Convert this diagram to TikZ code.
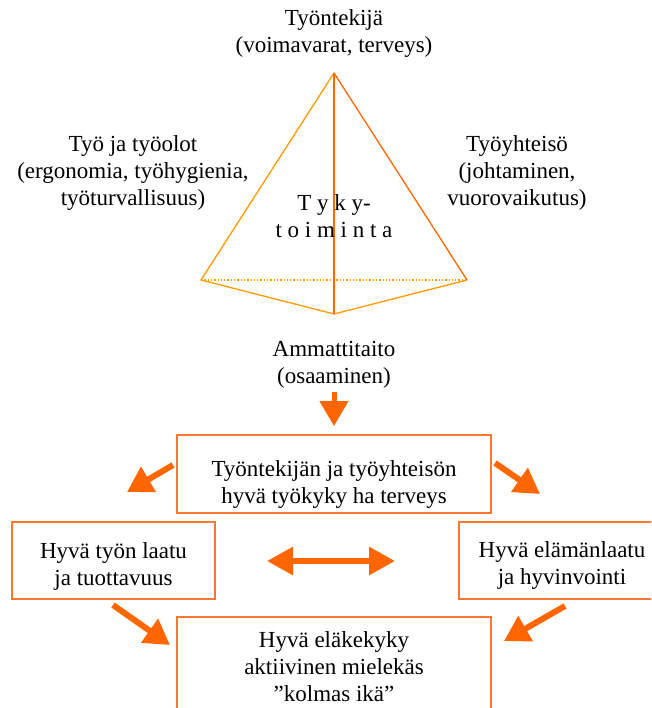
\documentclass[tikz,border=0pt]{standalone}
\usepackage{fontspec}
\setmainfont{Liberation Serif}
\usetikzlibrary{arrows.meta}
\definecolor{amber}{RGB}{255,153,0}
\definecolor{deeporange}{RGB}{255,102,0}
\definecolor{boxorange}{RGB}{250,120,50}
\tikzset{
  txt/.style={align=center, inner sep=0pt, font=\fontsize{23}{27}\selectfont, text=black},
  boxnode/.style={draw=boxorange, line width=1.5pt, inner sep=0pt},
  blockarrow/.style={draw=deeporange, line width=6pt,
     -{Triangle[length=25pt,width=28pt]}, shorten >=0pt},
  dblarrow/.style={draw=deeporange, line width=6pt,
     {Triangle[length=26pt,width=27pt]}-{Triangle[length=26pt,width=27pt]}},
  edgeA/.style={draw=amber, line width=1.3pt, line join=round},
  edgeB/.style={draw=deeporange, line width=1.3pt, line join=round}
}
\begin{document}
\begin{tikzpicture}[x=1pt,y=-1pt]
\useasboundingbox (0,0) rectangle (651,708);
\clip (0,0) rectangle (651,708);
% tetrahedron
\coordinate (A) at (334,73);
\coordinate (L) at (201,280);
\coordinate (R) at (467,280);
\coordinate (B) at (334,314);
\draw[edgeA, dotted] (L) -- (R);
\draw[edgeA] (A) -- (L) -- (B) -- (R);
\draw[edgeB] (A) -- (R);
\draw[edgeB] (A) -- (B);
% labels around tetrahedron
\node[txt] (top) at (334,34) {Työntekijä\\(voimavarat, terveys)};
\node[txt] (left) at (133,173) {Työ ja työolot\\(ergonomia, työhygienia,\\työturvallisuus)};
\node[txt] (right) at (517,173) {Työyhteisö\\(johtaminen,\\vuorovaikutus)};
\node[txt] (tyky) at (334,216) {T y k y-\\t o i m i n t a};
\node[txt] (amm) at (334,365) {Ammattitaito\\(osaaminen)};
% boxes
\node[boxnode, minimum width=314pt, minimum height=78pt] (b1) at (334,474) {};
\node[txt] (b1t) at ([yshift=-10pt]b1.center) {Työntekijän ja työyhteisön\\hyvä työkyky ha terveys};
\node[boxnode, minimum width=203pt, minimum height=77pt] (b2) at (113.5,560.5) {};
\node[txt] (b2t) at ([yshift=-6pt]b2.center) {Hyvä työn laatu\\ja tuottavuus};
\node[boxnode, minimum width=206pt, minimum height=77pt] (b3) at (562,560.5) {};
\node[txt] (b3t) at ([yshift=-5pt]b3.center) {Hyvä elämänlaatu\\ja hyvinvointi};
\node[boxnode, minimum width=314pt, minimum height=100pt] (b4) at (334,667) {};
\node[txt] (b4t) at (b4.center) {Hyvä eläkekyky\\aktiivinen mielekäs\\”kolmas ikä”};
% arrow end points
\coordinate (d0) at (334,392);
\coordinate (d1) at (334,426);
\coordinate (l0) at (173,465);
\coordinate (l1) at (127,492);
\coordinate (r0) at (495,463);
\coordinate (r1) at (540,494);
\coordinate (h0) at (267,561);
\coordinate (h1) at (395,561);
\coordinate (ll0) at (113,605);
\coordinate (ll1) at (170,645);
\coordinate (lr0) at (565,606);
\coordinate (lr1) at (504,641);
\draw[blockarrow, line width=5pt] (d0) -- (d1);
\draw[blockarrow] (l0) -- (l1);
\draw[blockarrow] (r0) -- (r1);
\draw[dblarrow] (h0) -- (h1);
\draw[blockarrow] (ll0) -- (ll1);
\draw[blockarrow] (lr0) -- (lr1);
\end{tikzpicture}
\end{document}
